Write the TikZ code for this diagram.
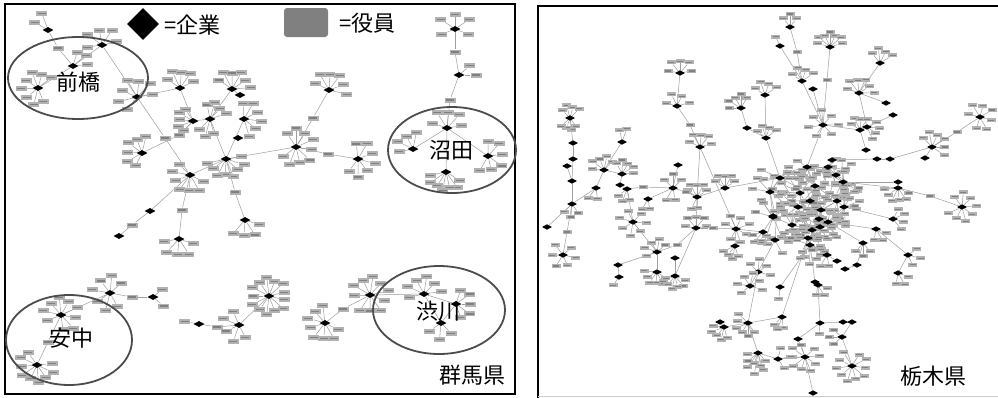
\documentclass[tikz,border=0pt]{standalone}
\usepackage{fontspec}
\newfontfamily\jp{Noto Sans CJK JP}
\usetikzlibrary{shapes.geometric,calc}
\pgfdeclarelayer{bg}
\pgfsetlayers{bg,main}
\def\offw{11pt}\def\offh{5pt}\def\firmw{11pt}\def\firmh{6pt}
\tikzset{
 firm/.style={diamond, fill=black, inner sep=0pt, minimum width=\firmw, minimum height=\firmh},
 off/.style={rectangle, fill=black!30, inner sep=0pt, minimum width=\offw, minimum height=\offh,
   path picture={\draw[black!50,line width=1.1pt]
     ([xshift=1.5pt]path picture bounding box.west) -- ([xshift=-1.5pt]path picture bounding box.east);}},
 edge/.style={draw=black!38, line width=0.5pt},
 ring/.style={ellipse, draw=black!70, line width=1.8pt, inner sep=0pt},
 lbl/.style={font=\jp\fontsize{22}{24}\selectfont, inner sep=0pt},
}
\def\edgelist{}
\newcommand{\lnkdraw}[2]{\draw[edge] (#1) -- (#2);}
\newcommand{\lnk}[2]{\xdef\edgelist{\unexpanded\expandafter{\edgelist}\noexpand\lnkdraw{#1}{#2}}}
\newcommand{\firmat}[3]{\node[firm] (#1) at (#2,#3) {};}
\newcommand{\sats}[6]{%
  \foreach \k in {1,...,#3}{%
    \pgfmathsetmacro\myang{#5+(\k-0.5)*(#6)/(#3)}%
    \pgfmathsetmacro\myrad{#4*(1-0.16*mod(\k,2))}%
    \node[off] (#1#2\k) at ($(#1)+(\myang:\myrad)$) {};%
    \lnk{#1}{#1#2\k}%
  }%
}
\newcommand{\hub}[7]{\firmat{#1}{#2}{#3}\sats{#1}{s}{#4}{#5}{#6}{#7}}
\newcommand{\via}[5]{\node[off] (#1) at (#2,#3) {};\lnk{#4}{#1}\lnk{#1}{#5}}
\begin{document}
\begin{tikzpicture}[x=1pt,y=-1pt]
\useasboundingbox (0,0) rectangle (998,397);
% ---------------- left panel: Gunma ----------------
\draw[line width=1.5pt] (5,4) rectangle (515,394);
\hub{a1}{48}{30}{2}{18}{190}{80}
\hub{a2}{102}{45}{5}{18}{150}{220}
\hub{a3}{73}{66}{3}{17}{270}{100}
\hub{a4}{38}{88}{8}{17}{50}{290}
\hub{a5}{137}{97}{7}{19}{110}{260}
\hub{a6}{180}{88}{5}{18}{200}{150}
\hub{a7}{232}{89}{6}{19}{200}{170}
\firmat{a8}{240}{95}
\hub{a9}{193}{121}{5}{16}{120}{130}
\hub{a10}{210}{119}{4}{17}{245}{110}
\sats{a10}{b}{3}{18}{60}{90}
\hub{a11}{244}{119}{6}{18}{250}{200}
\firmat{a12}{238}{138}
\hub{a13}{142}{153}{6}{17}{100}{200}
\hub{a14}{226}{159}{8}{19}{340}{200}
\hub{a15}{190}{175}{7}{18}{10}{230}
\hub{a16}{296}{147}{9}{19}{220}{300}
\hub{a17}{329}{90}{6}{18}{190}{200}
\hub{a18}{358}{159}{7}{18}{245}{260}
\hub{a19}{455}{29}{5}{17}{130}{280}
\hub{a20}{459}{75}{2}{17}{300}{80}
\hub{a21}{447}{128}{5}{18}{180}{190}
\hub{a22}{413}{149}{4}{17}{150}{150}
\hub{a23}{488}{156}{6}{17}{250}{250}
\hub{a24}{446}{172}{7}{19}{20}{160}
\firmat{b1}{150}{211}
\firmat{b2}{119}{236}
\hub{b3}{179}{239}{5}{18}{0}{190}
\hub{b4}{245}{220}{4}{18}{0}{150}
\hub{b5}{110}{293}{7}{18}{40}{300}
\hub{b6}{61}{315}{9}{18}{140}{320}
\hub{b7}{153}{297}{2}{14}{280}{160}
\hub{b8}{37}{365}{9}{18}{340}{270}
\hub{b9}{199}{324}{1}{17}{185}{10}
\hub{b10}{239}{325}{5}{17}{40}{230}
\hub{b11}{269}{296}{13}{19}{0}{360}
\hub{b12}{325}{323}{8}{18}{10}{270}
\hub{b13}{370}{295}{10}{19}{160}{340}
\hub{b14}{424}{294}{6}{18}{150}{220}
\hub{b15}{456}{304}{5}{17}{270}{180}
\hub{b16}{441}{323}{3}{17}{20}{150}
\via{m1}{58}{48}{a1}{a3}
\lnk{a2}{a3}\lnk{a3}{a4}\lnk{a2}{a5}\lnk{a5}{a6}\lnk{a6}{a9}\lnk{a9}{a10}
\lnk{a7}{a10}\lnk{a7}{a8}\lnk{a11}{a14}\lnk{a10}{a14}
\via{m2}{165}{138}{a5}{a15}
\via{m3}{179}{135}{a13}{a9}
\lnk{a14}{a15}\lnk{a14}{a16}
\via{m4}{313}{118}{a16}{a17}
\via{m5}{328}{154}{a16}{a18}
\via{m6}{455}{52}{a19}{a20}
\via{m7}{450}{100}{a20}{a21}
\lnk{a21}{a22}\lnk{a21}{a23}\lnk{a21}{a24}
\lnk{a15}{b1}
\via{m8}{132}{225}{b1}{b2}
\via{m9}{182}{210}{a15}{b3}
\via{m10}{235}{192}{a14}{b4}
\via{m11}{132}{297}{b5}{b7}
\lnk{b5}{b6}
\via{m12}{48}{342}{b6}{b8}
\via{m13}{217}{327}{b9}{b10}
\lnk{b10}{b11}
\via{m14}{343}{309}{b12}{b13}
\lnk{b13}{b14}\lnk{b14}{b15}\lnk{b14}{b16}\lnk{b15}{b16}
% rings and labels
\node[ring, minimum width=140pt, minimum height=82pt] (e1) at (78,78) {};
\node[ring, minimum width=128pt, minimum height=86pt] (e2) at (452,150) {};
\node[ring, minimum width=126pt, minimum height=90pt] (e3) at (69,340) {};
\node[ring, minimum width=132pt, minimum height=88pt] (e4) at (439,310) {};
\node[lbl] (l1) at (78,82) {前橋};
\node[lbl] (l2) at (451,150) {沼田};
\node[lbl] (l3) at (71,338) {安中};
\node[lbl] (l4) at (438,311) {渋川};
\node[lbl] (l5) at (472,375) {群馬県};
% legend
\node[diamond, fill=black, minimum width=32pt, minimum height=32pt, inner sep=0pt] (legf) at (143,24) {};
\node[lbl, anchor=west] (legft) at (164,25) {=企業};
\node[fill=black!50, rounded corners=3pt, minimum width=44pt, minimum height=29pt, inner sep=0pt] (lego) at (306,22.5) {};
\node[lbl, anchor=west] (legot) at (339,23) {=役員};
% ---------------- right panel: Tochigi ----------------
\draw[line width=1.5pt] (538,400) -- (538,6) -- (1000,6);
\draw[black!20] (538,396) -- (998,396);
\def\offw{9pt}\def\offh{4pt}\def\firmw{10pt}\def\firmh{5.5pt}
\foreach \n/\x/\y in {1/807/167,2/828/167,3/836/175,4/843/182,5/780/178,6/770/192,
  7/800/193,8/815/186,9/810/201,10/837/201,11/844/207,12/798/207,13/821/210,14/773/217,
  15/819/219,16/828/222,17/792/225,18/812/230,19/820/227,20/775/240,21/808/238,22/810/245}
  {\coordinate (cc\n) at (\x,\y);}
\pgfmathsetseed{4242}
\foreach \n in {1,...,22}{%
  \foreach \k in {1,...,8}{%
    \pgfmathsetmacro\ra{360*rnd}%
    \pgfmathsetmacro\rd{9+13*rnd}%
    \node[off] (c\n r\k) at ($(cc\n)+(\ra:\rd)$) {};%
    \lnk{c\n}{c\n r\k}%
  }%
}
\hub{t1}{790}{27}{3}{13}{215}{110}
\hub{t2}{780}{46}{1}{12}{240}{10}
\hub{t3}{830}{47}{7}{15}{185}{170}
\hub{t4}{880}{63}{4}{15}{215}{130}
\hub{t5}{802}{81}{4}{14}{195}{150}
\firmat{t6}{813}{89}
\hub{t7}{680}{73}{5}{14}{170}{200}
\hub{t8}{677}{106}{4}{13}{170}{200}
\hub{t9}{700}{147}{5}{14}{190}{170}
\hub{t10}{570}{118}{4}{13}{210}{120}
\sats{t10}{b}{4}{12}{40}{110}
\firmat{t11}{573}{143}
\firmat{t12}{573}{159}
\firmat{t13}{567}{166}
\hub{t14}{622}{142}{2}{14}{245}{60}
\hub{t15}{765}{95}{4}{14}{195}{150}
\hub{t16}{741}{108}{5}{14}{165}{150}
\firmat{t17}{747}{128}
\hub{t18}{766}{138}{4}{13}{200}{140}
\hub{t19}{859}{93}{6}{15}{185}{190}
\hub{t20}{823}{125}{7}{15}{100}{330}
\hub{t21}{860}{130}{4}{13}{200}{120}
\hub{t22}{867}{127}{4}{13}{320}{120}
\firmat{t23}{886}{103}
\firmat{t24}{893}{115}
\hub{t25}{980}{117}{7}{14}{170}{320}
\hub{t26}{932}{147}{6}{15}{210}{200}
\firmat{t27}{925}{158}
\firmat{t28}{890}{159}
\firmat{t29}{877}{159}
\firmat{t30}{832}{160}
\firmat{t31}{866}{150}
\firmat{t32}{678}{165}
\firmat{u1}{572}{181}
\hub{u2}{572}{204}{3}{13}{35}{120}
\firmat{u3}{547}{227}
\hub{u4}{563}{255}{6}{13}{290}{330}
\hub{u5}{604}{170}{5}{14}{170}{160}
\hub{u6}{622}{174}{5}{14}{230}{140}
\firmat{u7}{620}{185}
\hub{u8}{627}{189}{3}{13}{60}{100}
\hub{u9}{596}{188}{2}{13}{60}{90}
\hub{u10}{673}{188}{3}{14}{200}{140}
\sats{u10}{b}{2}{14}{60}{80}
\hub{u11}{648}{199}{2}{12}{60}{80}
\hub{u12}{697}{197}{5}{14}{200}{140}
\sats{u12}{b}{2}{13}{70}{60}
\hub{u13}{725}{188}{5}{14}{200}{140}
\hub{u14}{633}{222}{7}{14}{290}{340}
\hub{u15}{657}{252}{5}{13}{140}{200}
\firmat{u16}{618}{265}
\hub{u17}{619}{277}{1}{12}{120}{10}
\hub{u18}{657}{272}{6}{13}{20}{180}
\firmat{u19}{675}{258}
\hub{u20}{675}{276}{6}{13}{10}{160}
\hub{u21}{696}{228}{5}{13}{170}{200}
\hub{u22}{736}{229}{7}{14}{180}{320}
\hub{u23}{735}{246}{4}{13}{60}{110}
\hub{u24}{763}{232}{5}{13}{20}{160}
\firmat{u25}{773}{216}
\hub{v1}{758}{272}{4}{13}{200}{200}
\hub{v2}{750}{286}{6}{13}{120}{280}
\hub{v3}{780}{287}{1}{14}{90}{10}
\firmat{v4}{815}{282}
\hub{v5}{818}{285}{3}{12}{0}{120}
\hub{v6}{820}{323}{1}{13}{90}{10}
\firmat{v7}{843}{322}
\firmat{v8}{852}{322}
\hub{v9}{842}{337}{3}{13}{120}{120}
\hub{v10}{852}{366}{10}{16}{285}{330}
\firmat{v11}{798}{339}
\hub{v12}{805}{357}{9}{15}{300}{330}
\firmat{v13}{813}{393}
\hub{v14}{778}{359}{3}{13}{250}{200}
\hub{v15}{758}{353}{5}{13}{30}{160}
\sats{v15}{b}{3}{21}{60}{80}
\hub{v16}{748}{323}{6}{13}{40}{200}
\firmat{v17}{720}{322}
\hub{v18}{724}{327}{5}{13}{60}{140}
\hub{v19}{782}{317}{3}{13}{70}{80}
\hub{w1}{893}{219}{4}{13}{280}{150}
\hub{w2}{908}{255}{3}{13}{300}{150}
\hub{w3}{898}{273}{3}{13}{0}{120}
\hub{w4}{962}{207}{8}{15}{215}{320}
\firmat{w5}{898}{182}
\hub{w6}{898}{188}{6}{14}{10}{180}
\hub{w7}{876}{229}{3}{13}{0}{120}
\hub{w8}{863}{243}{3}{13}{30}{120}
\hub{w9}{827}{255}{3}{13}{60}{120}
\firmat{w10}{837}{261}
\firmat{w11}{857}{265}
\firmat{w12}{845}{269}
\foreach \n in {1,...,22}{\node[firm] (c\n) at (cc\n) {};}
\via{n1}{797}{52}{t1}{t5}
\lnk{t2}{t5}\lnk{t5}{t20}\lnk{t4}{t19}\lnk{t6}{t20}
\via{n2}{827}{80}{t3}{t20}
\lnk{t7}{t8}
\via{n3}{690}{125}{t8}{t9}
\lnk{t9}{u12}\lnk{t9}{u22}
\lnk{t15}{t18}\lnk{t16}{t17}\lnk{t17}{t18}\lnk{t18}{c5}
\lnk{t10}{t11}\lnk{t11}{t12}\lnk{t12}{u1}\lnk{t13}{u1}\lnk{u1}{u2}
\via{n4}{567}{232}{u2}{u4}
\lnk{u3}{u2}\lnk{u2}{u9}\lnk{u9}{u5}
\lnk{t14}{u5}\lnk{u5}{u6}\lnk{u6}{u7}\lnk{u7}{u8}
\via{n5}{643}{187}{u8}{u10}
\lnk{u8}{u14}\lnk{t32}{u10}\lnk{u11}{u10}
\via{n6}{686}{192}{u10}{u12}
\lnk{u12}{u13}\lnk{u13}{c5}\lnk{u12}{u21}
\via{n7}{677}{245}{u15}{u21}
\lnk{u15}{u18}\lnk{u19}{u20}\lnk{u20}{u21}\lnk{u16}{u15}\lnk{u17}{u16}\lnk{u14}{u15}
\via{n8}{713}{228}{u21}{u22}
\lnk{u22}{u23}\lnk{u22}{u24}\lnk{u24}{c14}\lnk{u25}{c14}
\lnk{t20}{c1}\lnk{t20}{t21}\lnk{t21}{t22}\lnk{t19}{t22}\lnk{t23}{t19}\lnk{t24}{t22}
\lnk{t31}{t21}\lnk{t30}{c2}\lnk{t29}{t30}\lnk{t28}{t29}\lnk{t26}{t28}\lnk{t27}{t26}
\via{n9}{957}{132}{t25}{t26}
\lnk{w5}{c4}\lnk{w6}{c4}\lnk{w1}{c11}\lnk{w2}{w7}\lnk{w3}{w2}
\via{n10}{930}{196}{w4}{w6}
\lnk{w7}{c16}\lnk{w8}{c16}\lnk{w9}{c22}\lnk{w10}{w9}\lnk{w11}{w8}\lnk{w12}{w11}
\lnk{v1}{c20}\lnk{v2}{v1}\lnk{v3}{c22}\lnk{v4}{c22}\lnk{v5}{v4}\lnk{v6}{v5}
\lnk{v7}{v6}\lnk{v8}{v7}\lnk{v9}{v8}\lnk{v10}{v9}\lnk{v11}{v6}\lnk{v12}{v11}
\lnk{v13}{v12}\lnk{v14}{v12}\lnk{v15}{v14}\lnk{v16}{v15}\lnk{v16}{v1}
\lnk{v17}{v18}\lnk{v18}{v16}\lnk{v19}{v16}\lnk{v19}{c21}
\lnk{c1}{c8}\lnk{c2}{c3}\lnk{c3}{c4}\lnk{c4}{c11}\lnk{c5}{c6}\lnk{c6}{c7}\lnk{c7}{c8}
\lnk{c8}{c9}\lnk{c9}{c12}\lnk{c10}{c11}\lnk{c13}{c15}\lnk{c14}{c17}\lnk{c15}{c16}
\lnk{c17}{c18}\lnk{c18}{c19}\lnk{c20}{c21}\lnk{c21}{c22}\lnk{c9}{c13}\lnk{c12}{c17}\lnk{c10}{c13}
\lnk{c1}{c2}\lnk{c5}{c12}\lnk{c6}{c14}\lnk{c11}{c16}\lnk{c19}{c21}\lnk{c8}{c10}
\node[lbl] (l6) at (933,376) {栃木県};
\begin{pgfonlayer}{bg}
\fill[white] (0,0) rectangle (998,397);
\edgelist
\end{pgfonlayer}
\end{tikzpicture}
\end{document}
